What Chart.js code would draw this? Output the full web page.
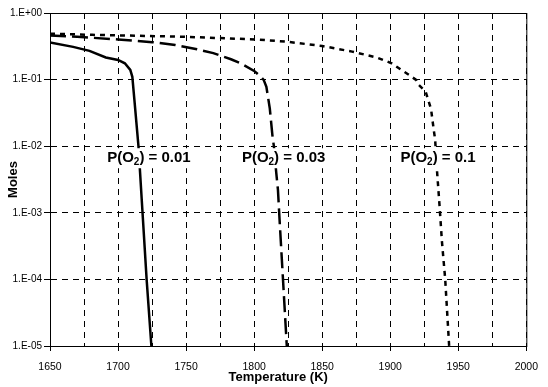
<!DOCTYPE html>
<html>
<head>
<meta charset="utf-8">
<script src="https://cdn.jsdelivr.net/npm/chart.js@4/dist/chart.umd.min.js"></script>
<style>
  html, body { margin: 0; padding: 0; background: #fff; }
</style>
</head>
<body>
<canvas id="myChart" width="548" height="387"></canvas>
<script>
// P(O2) = 0.01
const tempLow = [1650, 1667, 1679, 1691, 1700, 1705, 1709, 1710.5, 1712, 1715, 1718, 1721, 1724.5];
const molesLow = [0.36, 0.31, 0.27, 0.215, 0.197, 0.176, 0.14, 0.11, 0.05, 0.01, 0.001, 0.0001, 0.00001];

// P(O2) = 0.03
const tempMid = [1650, 1670, 1700, 1725, 1742, 1758, 1770, 1783, 1790, 1800, 1804, 1807, 1809, 1811.5, 1813.4, 1814.5, 1816.3, 1817.5, 1818.7, 1821.2, 1824];
const molesMid = [0.46, 0.44, 0.40, 0.365, 0.33, 0.285, 0.25, 0.202, 0.176, 0.135, 0.115, 0.099, 0.078, 0.037, 0.0147, 0.01, 0.0039, 0.0022, 0.00078, 0.0001, 0.00001];

// P(O2) = 0.1
const tempHigh = [1650, 1681, 1749, 1802, 1824, 1850, 1872, 1890, 1901, 1910, 1914, 1919, 1921, 1926, 1930, 1932, 1933, 1934.4, 1936.1, 1938, 1940.4, 1943.3];
const molesHigh = [0.49, 0.47, 0.44, 0.40, 0.37, 0.32, 0.263, 0.215, 0.176, 0.132, 0.117, 0.099, 0.083, 0.066, 0.036, 0.0174, 0.0126, 0.0042, 0.0014, 0.00037, 0.0001, 0.00001];

const yTicks = [1e-5, 1e-4, 1e-3, 1e-2, 1e-1, 1];

// curve labels, placed in data units
const labelValues = ['0.01', '0.03', '0.1'];
const labelTemps = [1692, 1791, 1907.5];
const labelMoles = 0.0066;

const FONT = 'Arial, "Liberation Sans", sans-serif';

function pts(xs, ys) {
    return xs.map((x, i) => ({ x: x, y: ys[i] }));
}

function sciLabel(v) {
    const e = Math.round(Math.log10(v));
    const s = String(Math.abs(e)).padStart(2, '0');
    return '1.E' + (e < 0 ? '-' : '+') + s;
}

const frame = {
    id: 'frame',
    beforeDatasetsDraw(chart) {
        const a = chart.chartArea;
        const ctx = chart.ctx;
        ctx.save();
        ctx.strokeStyle = '#000';
        ctx.lineWidth = 1;
        ctx.strokeRect(a.left + 0.5, a.top + 0.5, a.right - a.left, a.bottom - a.top);
        ctx.restore();
    }
};

// x title sits a little left of the plot centre in the original
const xTitle = {
    id: 'xTitle',
    afterDraw(chart) {
        const a = chart.chartArea;
        const ctx = chart.ctx;
        ctx.save();
        ctx.fillStyle = '#000';
        ctx.font = 'bold 13px ' + FONT;
        ctx.textAlign = 'center';
        ctx.textBaseline = 'middle';
        ctx.fillText('Temperature (K)', (a.left + a.right) / 2 - 10, a.bottom + 31);
        ctx.restore();
    }
};

const curveLabels = {
    id: 'curveLabels',
    afterDatasetsDraw(chart) {
        const ctx = chart.ctx;
        const xs = chart.scales.x, ys = chart.scales.y;
        ctx.save();
        ctx.textBaseline = 'middle';
        ctx.textAlign = 'left';
        labelValues.forEach((v, i) => {
            let x = xs.getPixelForValue(labelTemps[i]);
            const y = ys.getPixelForValue(labelMoles);
            const tail = ') = ' + v;
            ctx.font = 'bold 15px ' + FONT;
            const w1 = ctx.measureText('P(O').width;
            const w3 = ctx.measureText(tail).width;
            ctx.font = 'bold 10px ' + FONT;
            const w2 = ctx.measureText('2').width;
            ctx.fillStyle = '#fff';
            ctx.fillRect(x - 3, y - 10, w1 + w2 + w3 + 6, 20);
            ctx.fillStyle = '#000';
            ctx.font = 'bold 15px ' + FONT;
            ctx.fillText('P(O', x, y);
            x += w1;
            ctx.font = 'bold 10px ' + FONT;
            ctx.fillText('2', x, y + 4);
            x += w2;
            ctx.font = 'bold 15px ' + FONT;
            ctx.fillText(tail, x, y);
        });
        ctx.restore();
    }
};

const data = {
    datasets: [
        {
            label: 'P(O2) = 0.01',
            data: pts(tempLow, molesLow),
            borderColor: '#000',
            borderWidth: 2.5,
        },
        {
            label: 'P(O2) = 0.03',
            data: pts(tempMid, molesMid),
            borderColor: '#000',
            borderWidth: 2.5,
            borderDash: [16, 6],
        },
        {
            label: 'P(O2) = 0.1',
            data: pts(tempHigh, molesHigh),
            borderColor: '#000',
            borderWidth: 2.5,
            borderDash: [5, 5],
        }
    ]
};

const config = {
    type: 'line',
    data: data,
    options: {
        responsive: false,
        animation: false,
        devicePixelRatio: 1,
        layout: { padding: { top: 13, right: 14, left: 0, bottom: 0 } },
        elements: { point: { radius: 0 }, line: { tension: 0 } },
        plugins: {
            legend: { display: false },
            tooltip: { enabled: false }
        },
        scales: {
            x: {
                type: 'linear',
                min: 1650,
                max: 2000,
                afterFit: (axis) => { axis.height = 41; },
                ticks: {
                    stepSize: 25,
                    autoSkip: false,
                    maxRotation: 0,
                    padding: 10,
                    color: '#000',
                    font: { family: FONT, size: 10.5 },
                    callback: (v) => (v % 50 === 0 ? String(v) : '')
                },
                grid: {
                    color: '#000',
                    lineWidth: 1,
                    tickLength: 5,
                    tickColor: (c) => (c.tick && c.tick.value % 50 === 0 ? '#000' : 'rgba(0,0,0,0)')
                },
                border: { color: '#000', dash: [6, 5] }
            },
            y: {
                type: 'logarithmic',
                min: 1e-5,
                max: 1,
                afterFit: (axis) => { axis.width = 50; },
                afterBuildTicks: (axis) => { axis.ticks = yTicks.map(v => ({ value: v })); },
                ticks: {
                    padding: 2,
                    color: '#000',
                    font: { family: FONT, size: 10 },
                    callback: (v) => sciLabel(v)
                },
                grid: {
                    color: '#000',
                    lineWidth: 1,
                    tickLength: 6,
                    tickColor: '#000'
                },
                border: { color: '#000', dash: [6, 5] },
                title: {
                    display: true,
                    text: 'Moles',
                    color: '#000',
                    font: { family: FONT, size: 13, weight: 'bold' },
                    padding: { top: 6, bottom: 0 }
                }
            }
        }
    },
    plugins: [frame, curveLabels, xTitle]
};

new Chart(document.getElementById('myChart'), config);
</script>
</body>
</html>
